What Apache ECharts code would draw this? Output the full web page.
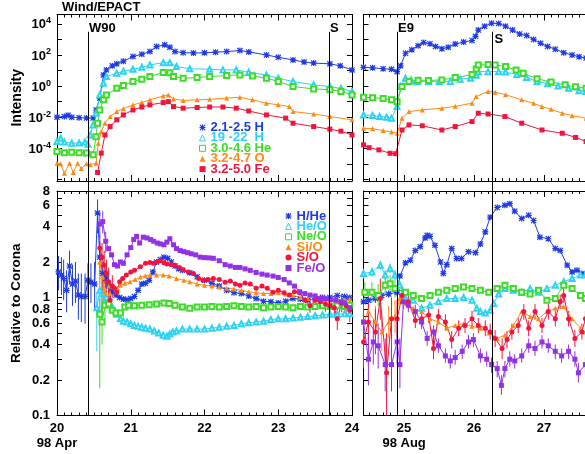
<!DOCTYPE html>
<html><head><meta charset="utf-8">
<script src="https://cdn.jsdelivr.net/npm/echarts@6/dist/echarts.min.js"></script>
<style>html,body{margin:0;padding:0;background:#fff}#c{width:585px;height:454px}</style>
</head><body><div id="c"></div>
<script>
// ---------------- DATA ----------------
// Day of month (1998) / intensity values (top panels)
const intH21Apr = [[20.00,1.0e-2],[20.10,1.1e-2],[20.15,1.35e-2],[20.20,1.0e-2],[20.30,9.3e-3],[20.40,8.9e-3],[20.49,8.9e-3],[20.53,2.9e-2],[20.58,0.17],[20.63,5.2],[20.67,11],[20.75,20],[20.81,27],[20.90,40],[21.03,79],[21.15,112],[21.26,166],[21.35,347],[21.46,447],[21.53,316],[21.60,166],[21.71,141],[21.85,135],[22.00,138],[22.15,151],[22.30,166],[22.48,191],[22.60,158],[22.84,100],[23.00,71],[23.20,48],[23.35,35],[23.48,30],[23.70,27],[23.84,20],[24.00,11]];
const intH19Apr = [[20.00,2.7e-4],[20.05,4.4e-4],[20.10,2.5e-4],[20.20,2.1e-4],[20.30,2.2e-4],[20.38,2.5e-4],[20.42,1.8e-4],[20.45,7.2e-4],[20.49,3.2e-3],[20.53,1.8e-2],[20.58,0.27],[20.63,1.5],[20.67,4.1],[20.81,6.8],[20.90,8.9],[21.03,12],[21.15,16],[21.26,23],[21.44,32],[21.53,32],[21.62,18],[21.80,13],[22.07,12],[22.25,11],[22.43,11],[22.60,7.9],[22.84,5.2],[23.00,3.2],[23.20,1.95],[23.48,1.2],[23.70,0.93],[23.85,0.71],[24.00,0.45]];
const intHe3Apr = [[20.00,6.2e-5],[20.10,5.2e-5],[20.20,5.6e-5],[20.30,5.2e-5],[20.40,5.0e-5],[20.49,3.8e-5],[20.53,5.6e-4],[20.55,4.1e-3],[20.58,2.9e-2],[20.63,0.13],[20.67,0.27],[20.81,0.72],[20.90,1.1],[21.03,1.95],[21.15,2.8],[21.26,4.1],[21.44,7.4],[21.53,7.1],[21.58,4.1],[21.71,3.2],[21.90,3.5],[22.07,4.1],[22.30,4.8],[22.48,5.2],[22.65,4.5],[22.84,3.2],[23.00,2.0],[23.20,0.93],[23.48,0.66],[23.70,0.58],[23.85,0.45],[24.00,0.27]];
const intO3Apr = [[20.00,1.1e-5],[20.05,1.0e-5],[20.10,2.5e-6],[20.17,1.1e-5],[20.22,2.8e-6],[20.28,1.1e-5],[20.33,5.0e-6],[20.40,1.0e-5],[20.45,8.9e-6],[20.53,1.1e-5],[20.56,2.1e-4],[20.60,1.2e-3],[20.65,4.1e-3],[20.72,1.1e-2],[20.81,2.3e-2],[20.90,3.5e-2],[21.03,6.2e-2],[21.15,8.9e-2],[21.26,0.13],[21.44,0.23],[21.51,0.27],[21.58,0.15],[21.71,0.12],[21.90,0.13],[22.07,0.14],[22.30,0.17],[22.48,0.19],[22.65,0.13],[22.84,7.9e-2],[23.00,6.3e-2],[23.15,4.8e-2],[23.20,2.3e-2],[23.48,1.6e-2],[23.70,1.1e-2],[24.00,6.8e-3]];
const intFe3Apr = [[20.55,2.8e-6],[20.60,4.9e-5],[20.65,7.2e-4],[20.72,2.5e-3],[20.81,6.8e-3],[20.90,1.4e-2],[21.03,2.9e-2],[21.15,4.5e-2],[21.26,6.2e-2],[21.44,8.7e-2],[21.51,0.1],[21.58,4.8e-2],[21.71,3.8e-2],[21.90,4.2e-2],[22.07,4.5e-2],[22.25,4.5e-2],[22.43,3.8e-2],[22.60,2.5e-2],[22.84,1.4e-2],[23.10,8.7e-3],[23.20,4.1e-3],[23.48,2.5e-3],[23.70,1.7e-3],[23.85,1.26e-3],[24.00,7.2e-4]];

const intH21Aug = [[24.42,16],[24.55,15],[24.70,13],[24.82,12],[24.90,8.5],[24.95,20],[25.02,129],[25.11,214],[25.20,398],[25.28,631],[25.37,525],[25.45,355],[25.54,251],[25.63,316],[25.73,501],[25.85,676],[25.97,851],[26.02,1580],[26.06,3980],[26.15,7080],[26.25,11000],[26.35,10500],[26.45,7080],[26.55,3980],[26.65,2240],[26.75,1780],[26.85,1000],[26.95,562],[27.05,355],[27.16,234],[27.28,141],[27.40,100],[27.50,76],[27.60,63]];
const intH19Aug = [[24.42,1.4e-2],[24.55,1.3e-2],[24.65,1.1e-2],[24.75,1.0e-2],[24.82,8.5e-3],[24.90,4.8e-2],[24.95,0.93],[25.02,3.2],[25.10,2.5],[25.18,2.0],[25.35,2.0],[25.50,2.0],[25.66,2.0],[25.80,2.8],[25.95,3.2],[26.03,5.0],[26.06,8.5],[26.20,8.5],[26.35,8.5],[26.45,7.9],[26.61,5.6],[26.75,3.5],[26.90,2.0],[27.05,1.4],[27.20,1.0],[27.35,0.72],[27.50,0.5],[27.60,0.45]];
const intHe3Aug = [[24.42,0.19],[24.55,0.18],[24.70,0.16],[24.82,0.13],[24.90,0.10],[24.97,0.93],[25.07,1.95],[25.20,2.4],[25.35,2.3],[25.54,2.5],[25.73,3.5],[25.97,5.5],[26.03,12.6],[26.06,23],[26.20,24],[26.30,23],[26.45,18],[26.60,11],[26.70,6.8],[26.90,3.0],[27.10,1.8],[27.30,1.2],[27.45,0.9],[27.60,0.72]];
const intO3Aug = [[24.42,1.95e-3],[24.55,1.8e-3],[24.70,1.4e-3],[24.82,1.1e-3],[24.90,9.3e-4],[24.97,8.5e-3],[25.07,2.3e-2],[25.26,2.95e-2],[25.54,3.8e-2],[25.73,5.0e-2],[25.97,7.9e-2],[26.03,0.21],[26.20,0.45],[26.30,0.4],[26.45,0.28],[26.68,0.13],[26.85,7.9e-2],[26.97,4.8e-2],[27.10,3.2e-2],[27.26,1.8e-2],[27.40,1.26e-2],[27.60,8.5e-3]];
const intFe3Aug = [[24.42,1.66e-4],[24.50,1.1e-4],[24.64,7.9e-5],[24.80,4.8e-5],[24.88,4.5e-5],[24.97,1.5e-3],[25.07,3.2e-3],[25.26,2.8e-3],[25.54,1.5e-3],[25.73,2.5e-3],[25.97,5.2e-3],[26.06,1.8e-2],[26.20,1.6e-2],[26.44,1.1e-2],[26.68,4.1e-3],[26.97,1.5e-3],[27.26,9.3e-4],[27.45,5.0e-4],[27.60,2.7e-4]];

// Ratios relative to corona: [day, value, errLow, errHigh]
const hHeApr = [[20.02,1.65,1.15,2.25],[20.06,1.55,1.05,2.2],[20.09,1.45,0.95,2.1],[20.13,1.15,0.75,1.7],[20.17,1.85,1.3,2.5],[20.21,1.3,0.85,1.9],[20.25,1.38,0.9,2.0],[20.29,1.05,0.65,1.6],[20.33,1.02,0.62,1.6],[20.38,1.02,0.6,1.6],[20.42,1.4,1.0,1.95],[20.46,1.35,0.9,1.95],[20.51,1.3,0.8,2.0],[20.55,5.2,3.5,6.8],[20.58,2.2,1.6,3.0],[20.62,1.6,1.3,2.0],[20.66,1.45,1.2,1.7],[20.70,1.25],[20.75,1.12],[20.80,1.05],[20.85,1.0],[20.90,0.97],[20.95,0.96],[21.00,0.98],[21.05,1.02],[21.10,1.15],[21.15,1.3],[21.20,1.32],[21.25,1.4],[21.30,1.65],[21.35,2.0],[21.40,2.1],[21.45,2.2],[21.50,2.15],[21.55,2.0],[21.60,1.85],[21.65,1.75],[21.70,1.7],[21.80,1.62],[21.90,1.5],[22.00,1.4],[22.10,1.32],[22.20,1.25],[22.30,1.15],[22.40,1.1],[22.50,1.08],[22.60,1.03],[22.70,0.98],[22.80,0.93],[22.90,0.92],[23.00,0.9],[23.10,0.93],[23.20,0.98],[23.30,0.97],[23.40,0.95],[23.50,0.98],[23.60,1.0],[23.70,1.0],[23.80,1.04],[23.90,1.02],[23.97,1.0]];
const heOApr = [[20.54,0.82,0.35,1.1],[20.58,1.15,0.8,1.5],[20.63,1.08,0.85,1.3],[20.67,1.0],[20.72,0.9],[20.76,0.8],[20.81,0.72],[20.86,0.66],[20.90,0.63],[20.95,0.62],[21.00,0.6],[21.05,0.58],[21.10,0.57],[21.15,0.56],[21.20,0.55],[21.26,0.54],[21.32,0.52],[21.38,0.5],[21.44,0.48],[21.49,0.47],[21.53,0.49],[21.57,0.51],[21.62,0.52],[21.70,0.54],[21.80,0.54],[21.90,0.54],[22.00,0.54],[22.10,0.55],[22.20,0.56],[22.30,0.57],[22.40,0.58],[22.50,0.6],[22.60,0.61],[22.70,0.62],[22.80,0.63],[22.90,0.65],[23.00,0.66],[23.10,0.66],[23.20,0.67],[23.30,0.68],[23.40,0.69],[23.50,0.7],[23.60,0.71],[23.70,0.72],[23.80,0.72],[23.90,0.73],[23.97,0.73]];
const neOApr = [[20.58,0.72,0.17,0.98],[20.61,0.62,0.4,0.85],[20.65,0.86,0.65,1.1],[20.70,0.88],[20.75,0.78],[20.80,0.74],[20.86,0.74],[20.92,0.83],[20.97,0.86],[21.05,0.85],[21.15,0.86],[21.25,0.87],[21.35,0.88],[21.45,0.9],[21.52,0.89],[21.60,0.86],[21.70,0.83],[21.80,0.81],[21.90,0.83],[22.00,0.83],[22.10,0.84],[22.20,0.83],[22.30,0.84],[22.40,0.85],[22.50,0.84],[22.60,0.83],[22.70,0.84],[22.80,0.82],[22.90,0.83],[23.00,0.84],[23.10,0.83],[23.20,0.82],[23.30,0.84],[23.40,0.83],[23.50,0.84],[23.60,0.85],[23.70,0.84],[23.80,0.85],[23.90,0.84],[23.97,0.86]];
const siOApr = [[20.58,2.0,1.3,2.8],[20.62,1.5,1.1,2.0],[20.65,1.11,0.85,1.4],[20.70,1.25],[20.72,1.08],[20.77,1.25],[20.82,1.2],[20.86,1.27],[20.92,1.32],[20.99,1.36],[21.06,1.42],[21.13,1.49],[21.20,1.53],[21.26,1.55],[21.35,1.55],[21.44,1.55],[21.52,1.52],[21.62,1.45],[21.72,1.4],[21.80,1.36],[21.90,1.3],[22.00,1.27],[22.10,1.25],[22.20,1.23],[22.30,1.2],[22.40,1.18],[22.50,1.15],[22.60,1.12],[22.70,1.1],[22.80,1.08],[22.90,1.08],[23.00,1.1],[23.10,1.07],[23.20,1.04],[23.30,1.0],[23.40,0.98],[23.50,0.96],[23.60,0.93],[23.70,0.93],[23.80,0.95],[23.90,0.96],[23.97,0.97]];
const sOApr = [[20.58,2.63,1.9,3.4],[20.61,2.2,0.75,2.9],[20.64,1.88,1.3,2.5],[20.67,1.6,1.1,2.1],[20.70,1.36,0.95,1.8],[20.72,0.95,0.76,1.27],[20.75,1.25,1.0,1.55],[20.78,1.2],[20.81,1.11],[20.85,1.36],[20.89,1.45],[20.94,1.55],[21.00,1.65],[21.05,1.7],[21.13,1.82],[21.20,1.95],[21.26,1.98],[21.31,1.95],[21.36,2.0],[21.40,2.05],[21.45,1.97],[21.49,1.92],[21.55,1.9],[21.60,1.88],[21.66,1.8],[21.71,1.72],[21.78,1.65],[21.85,1.6],[21.92,1.45],[21.98,1.4],[22.05,1.42],[22.12,1.45],[22.20,1.42],[22.28,1.35],[22.35,1.38],[22.42,1.3],[22.48,1.27],[22.55,1.33],[22.62,1.3],[22.70,1.2],[22.78,1.25],[22.85,1.2],[22.93,1.11],[23.00,1.15],[23.08,1.1],[23.15,1.05],[23.22,1.12],[23.29,1.1],[23.36,0.95],[23.43,0.85,0.74,0.98],[23.50,0.95,0.83,1.09],[23.57,0.92,0.8,1.06],[23.64,0.88,0.76,1.01],[23.70,0.85,0.71,1.02],[23.76,0.82,0.68,0.98],[23.80,0.66,0.53,0.82],[23.86,0.9,0.75,1.08],[23.92,0.85,0.71,1.02],[23.97,0.78,0.62,0.97]];
const feOApr = [[20.58,4.2,3.2,5.2],[20.62,4.4,3.5,5.4],[20.66,3.0,2.4,3.6],[20.70,2.6],[20.74,2.3],[20.78,1.9],[20.82,1.85],[20.86,2.0],[20.90,1.95],[20.95,2.3],[21.00,2.65],[21.04,3.1],[21.08,3.3],[21.12,2.9],[21.17,3.25],[21.22,3.2],[21.27,3.1],[21.31,3.0],[21.36,2.9],[21.40,2.85],[21.45,2.8],[21.49,2.95],[21.53,3.15],[21.58,2.8],[21.62,2.6],[21.67,2.5],[21.72,2.45],[21.77,2.4],[21.82,2.35],[21.88,2.3],[21.94,2.2],[22.00,2.18],[22.06,2.17],[22.12,2.15],[22.20,2.05],[22.28,1.9],[22.35,1.85],[22.42,1.8],[22.48,1.8],[22.55,1.75],[22.62,1.7],[22.70,1.63],[22.78,1.58],[22.85,1.55],[22.93,1.52],[23.00,1.48],[23.08,1.42],[23.15,1.33],[23.22,1.25],[23.29,1.12],[23.36,1.08],[23.43,1.05],[23.50,1.03],[23.57,0.98],[23.64,0.98],[23.71,0.96],[23.78,0.95],[23.85,0.92],[23.90,0.9],[23.97,0.82]];

const hHeAug = [[24.42,0.92,0.85,1.0],[24.49,0.95,0.88,1.03],[24.59,0.98,0.9,1.06],[24.68,1.04,0.96,1.12],[24.78,1.07,1.0,1.15],[24.90,1.11,1.03,1.2],[24.94,1.52],[25.02,1.97],[25.09,2.07],[25.16,2.5],[25.23,2.7],[25.30,3.2],[25.33,3.37],[25.37,3.3],[25.44,2.77],[25.52,2.0],[25.56,1.6],[25.61,1.9],[25.68,2.6],[25.75,2.14],[25.82,2.14],[25.92,2.45],[26.02,2.4],[26.09,2.85],[26.16,3.6],[26.23,4.8],[26.33,5.8],[26.44,6.05],[26.51,6.25],[26.58,5.4],[26.68,4.67],[26.78,4.98],[26.85,4.5],[26.94,3.25],[27.06,3.15],[27.16,2.6],[27.23,2.5],[27.33,1.88],[27.40,1.65],[27.47,1.7],[27.54,1.6],[27.59,1.55]];
const heOAug = [[24.42,1.6,1.45,1.75],[24.54,1.65,1.5,1.8],[24.66,1.88,1.7,2.05],[24.73,1.55,1.4,1.7],[24.80,1.76,1.6,1.95],[24.87,1.55,1.4,1.7],[24.94,1.27],[25.02,0.98],[25.13,0.95],[25.25,0.81],[25.37,0.86],[25.49,0.92],[25.61,0.98],[25.73,0.98],[25.85,1.0],[25.97,0.95],[26.04,0.81],[26.09,0.76],[26.16,0.74],[26.23,0.78],[26.28,0.89],[26.35,1.07],[26.44,1.19],[26.56,1.15],[26.68,1.11],[26.80,1.19],[26.92,1.11],[27.04,1.19],[27.16,1.27],[27.28,1.36],[27.40,1.45],[27.52,1.55],[27.59,1.56]];
const neOAug = [[24.44,1.11,0.9,1.35],[24.54,1.11,0.9,1.35],[24.63,1.04,0.85,1.3],[24.73,1.27,1.05,1.5],[24.80,1.31,1.1,1.55],[24.87,1.19,1.0,1.4],[25.02,1.11],[25.13,1.04],[25.25,0.98],[25.37,1.04],[25.49,1.11],[25.61,1.15],[25.73,1.19],[25.85,1.23],[25.97,1.19],[26.09,1.15],[26.21,1.11],[26.33,1.19],[26.44,1.27],[26.56,1.19],[26.68,1.11],[26.80,1.07],[26.92,1.15],[27.04,0.95],[27.16,0.98],[27.28,1.27],[27.40,1.19],[27.52,1.04],[27.59,0.98]];
const siOAug = [[24.42,0.62,0.45,0.85],[24.49,0.76,0.55,1.05],[24.59,0.62,0.45,0.85],[24.68,0.51,0.35,0.75],[24.78,0.62,0.45,0.85],[24.87,0.69,0.5,0.95],[24.94,0.98,0.88,1.1],[25.02,0.89],[25.13,0.81],[25.25,0.76],[25.37,0.66],[25.49,0.62],[25.61,0.55],[25.73,0.58],[25.85,0.6],[25.97,0.57],[26.09,0.55],[26.21,0.5],[26.33,0.45],[26.44,0.48],[26.56,0.58],[26.68,0.76],[26.80,0.69],[26.92,0.66],[27.04,0.76],[27.16,0.81],[27.28,0.84],[27.40,0.66],[27.52,0.55],[27.59,0.51]];
const sOAug = [[24.42,0.42,0.25,0.7],[24.49,0.62,0.4,0.95],[24.59,0.51,0.33,0.8],[24.66,0.98,0.65,1.45],[24.75,0.23,0.08,0.5],[24.82,0.66,0.42,1.0],[24.90,0.66,0.45,0.95],[24.97,1.04,0.9,1.2],[25.06,0.92,0.8,1.06],[25.16,0.64,0.55,0.75],[25.25,0.66,0.57,0.77],[25.35,0.71,0.61,0.82],[25.42,0.37,0.3,0.45],[25.49,0.69,0.6,0.8],[25.59,0.62,0.53,0.72],[25.68,0.44,0.37,0.52],[25.78,0.55,0.47,0.64],[25.87,0.58,0.5,0.67],[25.97,0.66,0.57,0.77],[26.06,0.58,0.5,0.67],[26.16,0.55,0.47,0.64],[26.23,0.51,0.44,0.6],[26.30,0.45,0.38,0.53],[26.40,0.37,0.3,0.45],[26.47,0.44,0.37,0.52],[26.54,0.51,0.44,0.6],[26.63,0.58,0.5,0.67],[26.71,0.76,0.65,0.88],[26.78,0.55,0.47,0.64],[26.87,0.76,0.65,0.88],[26.97,0.58,0.5,0.67],[27.06,0.76,0.65,0.88],[27.16,0.66,0.57,0.77],[27.23,0.92,0.8,1.06],[27.28,1.04,0.9,1.2],[27.35,0.66,0.57,0.77],[27.44,0.45,0.38,0.53],[27.54,0.51,0.44,0.6],[27.59,0.66,0.57,0.77]];
const feOAug = [[24.42,0.62,0.4,0.95],[24.49,0.30,0.18,0.5],[24.56,0.42,0.27,0.65],[24.63,0.39,0.25,0.6],[24.73,0.27,0.16,0.45],[24.82,0.27,0.16,0.45],[24.90,0.42,0.27,0.65],[24.94,0.27,0.17,0.45],[24.99,0.92,0.8,1.05],[25.06,0.86,0.75,0.98],[25.16,0.76,0.66,0.87],[25.25,0.62,0.54,0.71],[25.33,0.45,0.39,0.52],[25.42,0.51,0.44,0.58],[25.49,0.39,0.34,0.45],[25.59,0.32,0.28,0.37],[25.66,0.29,0.25,0.33],[25.73,0.31,0.27,0.36],[25.83,0.35,0.3,0.4],[25.92,0.42,0.37,0.48],[25.99,0.44,0.38,0.5],[26.09,0.32,0.28,0.37],[26.18,0.30,0.26,0.35],[26.25,0.27,0.23,0.31],[26.33,0.25,0.21,0.29],[26.39,0.18,0.15,0.22],[26.44,0.25,0.21,0.29],[26.51,0.30,0.26,0.35],[26.58,0.29,0.25,0.33],[26.68,0.32,0.28,0.37],[26.78,0.39,0.34,0.45],[26.87,0.37,0.32,0.43],[26.97,0.42,0.37,0.48],[27.06,0.39,0.34,0.45],[27.16,0.35,0.3,0.4],[27.25,0.32,0.28,0.37],[27.35,0.35,0.3,0.4],[27.44,0.30,0.26,0.35],[27.49,0.23,0.19,0.28],[27.59,0.27,0.23,0.31]];

// Axis ranges / ticks / labels
const xRangeApr = [20, 24];
const xRangeAug = [24.42, 28];
const xLabelsApr = [20, 21, 22, 23, 24];
const xLabelsAug = [25, 26, 27, 28];
const monthLabels = {20: '98 Apr', 25: '98 Aug'};
const intensityRange = [7.9e-7, 4.0e4];
const intensityTickExps = [-6, -5, -4, -3, -2, -1, 0, 1, 2, 3, 4];
const intensityLabelExps = [-4, -2, 0, 2, 4];
const ratioRange = [0.1, 8];
const ratioTicks = [0.1, 0.2, 0.3, 0.4, 0.5, 0.6, 0.7, 0.8, 0.9, 1, 2, 3, 4, 5, 6, 7, 8];
const ratioLabels = [0.1, 0.2, 0.4, 0.6, 0.8, 1, 2, 4, 6, 8];
const eventLines = [
  {name: 'W90', day: 20.416, panel: 0, label: 'above'},
  {name: 'S', day: 23.69, panel: 0, label: 'above'},
  {name: 'E9', day: 24.897, panel: 1, label: 'above'},
  {name: 'S', day: 26.25, panel: 1, label: 'beside'}
];
const eventLineTop = 3.1e3;

// ---------------- STYLE ----------------
const FONT = '"Liberation Sans", Arial, Helvetica, sans-serif';
const COL = {blue: '#1f3be6', cyan: '#2cd3f2', green: '#3cdc28', orange: '#ff8a12', red: '#f2143e', purple: '#9331e6'};
const ASTERISK = 'path://M0,4H10V6H0Z M4,0H6V10H4Z M1.4,0L10,8.6L8.6,10L0,1.4Z M8.6,0L10,1.4L1.4,10L0,8.6Z';

const intensitySpecs = [
  {name: '2.1-2.5 H', apr: intH21Apr, aug: intH21Aug, color: COL.blue, symbol: ASTERISK},
  {name: '19 -22  H', apr: intH19Apr, aug: intH19Aug, color: COL.cyan, symbol: 'emptyTriangle'},
  {name: '3.0-4.6 He', apr: intHe3Apr, aug: intHe3Aug, color: COL.green, symbol: 'emptyRect'},
  {name: '3.2-4.7 O', apr: intO3Apr, aug: intO3Aug, color: COL.orange, symbol: 'triangle'},
  {name: '3.2-5.0 Fe', apr: intFe3Apr, aug: intFe3Aug, color: COL.red, symbol: 'rect'}
];
const ratioSpecs = [
  {name: 'H/He', apr: hHeApr, aug: hHeAug, color: COL.blue, symbol: ASTERISK},
  {name: 'He/O', apr: heOApr, aug: heOAug, color: COL.cyan, symbol: 'emptyTriangle'},
  {name: 'Ne/O', apr: neOApr, aug: neOAug, color: COL.green, symbol: 'emptyRect'},
  {name: 'Si/O', apr: siOApr, aug: siOAug, color: COL.orange, symbol: 'triangle'},
  {name: 'S/O', apr: sOApr, aug: sOAug, color: COL.red, symbol: 'circle'},
  {name: 'Fe/O', apr: feOApr, aug: feOAug, color: COL.purple, symbol: 'rect'}
];

const lg = Math.log10;
const GRIDS = [
  {left: 57, top: 14.5, width: 295, height: 166.5},
  {left: 363.5, top: 14.5, width: 250.6, height: 166.5},
  {left: 57, top: 191, width: 295, height: 224.5},
  {left: 363.5, top: 191, width: 250.6, height: 224.5}
];

function tenths(a, b) { const out = []; for (let i = Math.ceil(a * 10); i <= Math.floor(b * 10); i++) out.push(i / 10); return out; }

const axisLineOn = {show: true, onZero: false, lineStyle: {color: '#000', width: 1}};
const axisLineOff = {show: false, onZero: false};
const tickCfg = (vals, len) => ({show: true, inside: true, length: len, customValues: vals, lineStyle: {color: '#000', width: 1}});
const labelFont = {fontFamily: FONT, fontSize: 13, fontWeight: 'bold', color: '#000'};

const xAxis = [];
const yAxis = [];
GRIDS.forEach((g, gi) => {
  const isAug = gi % 2 === 1;
  const isBottom = gi >= 2;
  const range = isAug ? xRangeAug : xRangeApr;
  const majors = isAug ? xLabelsAug : xLabelsApr;
  const minors = tenths(range[0], range[1]);
  const base = {type: 'value', gridIndex: gi, min: range[0], max: range[1], splitLine: {show: false}};
  xAxis.push(Object.assign({}, base, {position: 'bottom', axisLine: axisLineOn, axisTick: tickCfg(majors, 6),
    axisLabel: isBottom ? Object.assign({show: true, customValues: majors, margin: 5, lineHeight: 15,
      formatter: v => monthLabels[v] ? v + '\n' + monthLabels[v] : String(v)}, labelFont) : {show: false}}));
  xAxis.push(Object.assign({}, base, {position: 'bottom', axisLine: axisLineOff, axisTick: tickCfg(minors, 3), axisLabel: {show: false}}));
  xAxis.push(Object.assign({}, base, {position: 'top', axisLine: axisLineOn, axisTick: tickCfg(majors, 6), axisLabel: {show: false}}));
  xAxis.push(Object.assign({}, base, {position: 'top', axisLine: axisLineOff, axisTick: tickCfg(minors, 3), axisLabel: {show: false}}));

  const yBase = {type: 'value', gridIndex: gi, splitLine: {show: false}};
  let yl, yr;
  if (!isBottom) {
    Object.assign(yBase, {min: lg(intensityRange[0]), max: lg(intensityRange[1])});
    const ticks = intensityTickExps;
    yl = Object.assign({}, yBase, {position: 'left', axisLine: axisLineOn, axisTick: tickCfg(ticks, 5),
      axisLabel: !isAug ? {show: true, customValues: intensityLabelExps, margin: 6,
        formatter: v => '{b|10}{s|' + v + '}',
        rich: {b: {fontFamily: FONT, fontSize: 13, fontWeight: 'bold', color: '#000', lineHeight: 15, verticalAlign: 'bottom', padding: [4, 0, 0, 0]},
               s: {fontFamily: FONT, fontSize: 9, fontWeight: 'bold', color: '#000', lineHeight: 9, verticalAlign: 'top'}}} : {show: false},
      name: !isAug ? 'Intensity' : '', nameLocation: 'middle', nameGap: 33, nameMoveOverlap: false,
      nameTextStyle: {fontFamily: FONT, fontSize: 14, fontWeight: 'bold', color: '#000'}});
    yr = Object.assign({}, yBase, {position: 'right', axisLine: axisLineOn, axisTick: tickCfg(ticks, 5), axisLabel: {show: false}});
  } else {
    Object.assign(yBase, {min: lg(ratioRange[0]), max: lg(ratioRange[1])});
    const ticks = ratioTicks.map(lg);
    yl = Object.assign({}, yBase, {position: 'left', axisLine: axisLineOn, axisTick: tickCfg(ticks, 5),
      axisLabel: !isAug ? Object.assign({show: true, customValues: ratioLabels.map(lg), margin: 7,
        formatter: v => { const r = Math.pow(10, v); return r < 0.95 ? r.toFixed(1) : String(Math.round(r)); }}, labelFont) : {show: false},
      name: !isAug ? 'Relative to Corona' : '', nameLocation: 'middle', nameGap: 34, nameMoveOverlap: false,
      nameTextStyle: {fontFamily: FONT, fontSize: 13.5, fontWeight: 'bold', color: '#000'}});
    yr = Object.assign({}, yBase, {position: 'right', axisLine: axisLineOn, axisTick: tickCfg(ticks, 5), axisLabel: {show: false}});
  }
  yAxis.push(yl, yr);
});

function itemStyleFor(spec) {
  const empty = spec.symbol.indexOf('empty') === 0;
  return empty ? {color: spec.color, borderColor: spec.color, borderWidth: 1} : {color: spec.color, borderWidth: 0};
}
function lineSeries(spec, data, gi) {
  return {
    type: 'line', name: spec.name, xAxisIndex: 4 * gi, yAxisIndex: 2 * gi,
    data: data.map(p => [p[0], lg(p[1])]),
    symbol: spec.symbol, symbolSize: spec.symbol === ASTERISK ? 6 : 5,
    itemStyle: itemStyleFor(spec), lineStyle: {color: spec.color, width: 1},
    clip: true, animation: false, silent: true, z: 3
  };
}
function errSeries(spec, data, gi) {
  const pts = data.filter(p => p.length >= 4).map(p => [p[0], lg(p[2]), lg(p[3])]);
  return {
    type: 'custom', name: spec.name + ' err', xAxisIndex: 4 * gi, yAxisIndex: 2 * gi,
    data: pts, encode: {x: 0, y: [1, 2]}, clip: true, animation: false, silent: true, z: 2,
    renderItem: (params, api) => {
      const x = api.value(0);
      const a = api.coord([x, api.value(1)]);
      const b = api.coord([x, api.value(2)]);
      return {type: 'line', shape: {x1: a[0], y1: a[1], x2: b[0], y2: b[1]}, style: {stroke: spec.color, lineWidth: 1}};
    }
  };
}

const series = [];
intensitySpecs.forEach(s => { series.push(lineSeries(s, s.apr, 0)); series.push(lineSeries(s, s.aug, 1)); });
ratioSpecs.forEach(s => {
  series.push(errSeries(s, s.apr, 2)); series.push(errSeries(s, s.aug, 3));
  series.push(lineSeries(s, s.apr, 2)); series.push(lineSeries(s, s.aug, 3));
});

const legendText = {fontFamily: FONT, fontSize: 13, fontWeight: 'bold', lineHeight: 10};
function legendData(specs) {
  return specs.map(s => {
    const empty = s.symbol.indexOf('empty') === 0;
    return {
      name: s.name,
      icon: empty ? s.symbol.slice(5).toLowerCase() : s.symbol,
      itemStyle: empty ? {color: '#fff', borderColor: s.color, borderWidth: 1} : {color: s.color, borderWidth: 0},
      textStyle: {color: s.color}
    };
  });
}

const option = {
  animation: false,
  backgroundColor: '#fff',
  title: {text: 'Wind/EPACT', left: 62, top: 1, padding: 0,
    textStyle: {fontFamily: FONT, fontSize: 13, fontWeight: 'bold', color: '#000', lineHeight: 13}},
  grid: GRIDS.map(g => Object.assign({containLabel: false, outerBoundsMode: 'none'}, g)),
  xAxis, yAxis, series,
  legend: [
    {data: legendData(intensitySpecs), orient: 'vertical', left: 199, top: 121, padding: 0,
     itemWidth: 6, itemHeight: 6, itemGap: -2.6, textStyle: legendText, selectedMode: false},
    {data: legendData(ratioSpecs), orient: 'vertical', left: 285, top: 209.5, padding: 0,
     itemWidth: 6, itemHeight: 6, itemGap: -2.6, textStyle: legendText, selectedMode: false}
  ]
};

const chart = echarts.init(document.getElementById('c'), null, {renderer: 'canvas'});
chart.setOption(option);

// Event marker lines spanning both panels, positioned through the axes
const gfx = [];
eventLines.forEach(ev => {
  const gTop = ev.panel, gBot = ev.panel + 2;
  const x = Math.round(chart.convertToPixel({xAxisIndex: 4 * gTop}, ev.day)) + 0.5;
  const yTop = chart.convertToPixel({yAxisIndex: 2 * gTop}, lg(eventLineTop));
  const yBot = chart.convertToPixel({yAxisIndex: 2 * gBot}, lg(ratioRange[0]));
  gfx.push({type: 'line', shape: {x1: x, y1: yTop, x2: x, y2: yBot}, style: {stroke: '#000', lineWidth: 1}, z: 50, silent: true});
  const above = ev.label === 'above';
  gfx.push({type: 'text', x: above ? x + 0.5 : x + 2, y: above ? yTop + 3 : yTop + 1, z: 51, silent: true,
    style: {text: ev.name, font: 'bold 13px ' + FONT, fill: '#000', align: 'left', verticalAlign: above ? 'bottom' : 'top'}});
});
chart.setOption({graphic: gfx});
</script>
</body></html>
